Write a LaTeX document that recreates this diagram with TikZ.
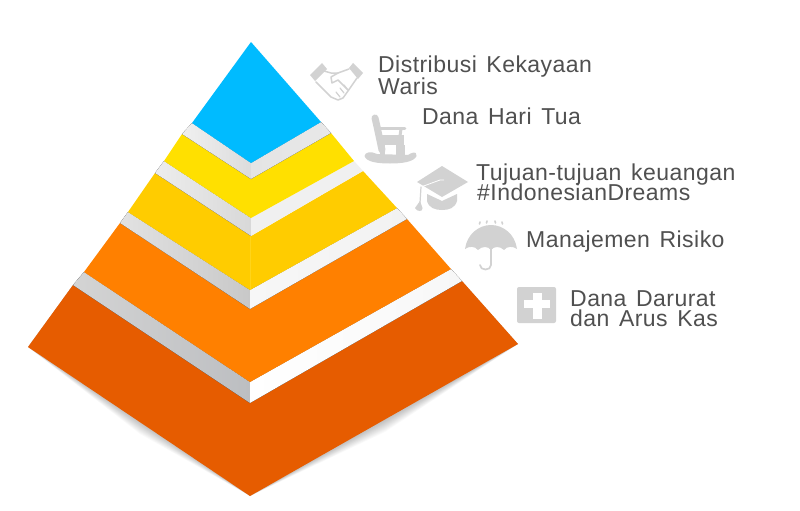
\documentclass[tikz,border=0pt]{standalone}
\usepackage{fontspec}
\setmainfont[LetterSpace=2,WordSpace=1.4]{Liberation Sans}
\definecolor{cblue}{HTML}{00BBFF}
\definecolor{cyel}{HTML}{FFE000}
\definecolor{cgold}{HTML}{FFCC00}
\definecolor{cseam}{HTML}{FFD41A}
\definecolor{corg}{HTML}{FF8000}
\definecolor{cdeep}{HTML}{E65C00}
\definecolor{icon}{HTML}{D2D2D2}
\definecolor{txt}{HTML}{505050}
\definecolor{gD4}{HTML}{D4D4D4}
\definecolor{gB4}{HTML}{BCBEC1}
\definecolor{gF7}{HTML}{F7F7F7}
\definecolor{gE2}{HTML}{E2E2E2}
\definecolor{gC8}{HTML}{C8C8C8}
\definecolor{gF2}{HTML}{F2F2F2}
\definecolor{gED}{HTML}{EDEDED}
\definecolor{gD8}{HTML}{D8D8D8}
\definecolor{gF0}{HTML}{F0F0F0}
\definecolor{gE4}{HTML}{E4E4E4}
\definecolor{gE8}{HTML}{E8E8E8}
\definecolor{gDC}{HTML}{DCDCDC}
\tikzset{
  label text/.style={anchor=base west,inner sep=0pt,text=txt,font=\fontsize{23}{23}\selectfont},
  icon fill/.style={fill=icon,draw=none},
  icon line/.style={draw=icon,line cap=round,line join=round},
}
\begin{document}
\begin{tikzpicture}[x=1pt,y=-1pt]
\useasboundingbox (0,0) rectangle (800,511);
\fill[white] (0,0) rectangle (800,511);
% shadow
\foreach \d in {1,2,...,12}{
  \fill[black,opacity=0.02] (28,347) -- (140,{422+\d}) -- (250,496) -- (385,{420+\d}) -- (518,344) -- (462,281) -- (73,285) -- cycle;
}
% base
\fill[cdeep] (73,285) -- (250,403) -- (462,281) -- (518,344) -- (250,496) -- (28,347) -- cycle;
% band 4
\fill[left color=gD4,right color=gB4] (84,272) -- (250,382) -- (250,403) -- (73,285) -- cycle;
\fill[left color=white,right color=gF7] (250,382) -- (451,269) -- (462,281) -- (250,403) -- cycle;
% orange
\fill[corg] (120,223) -- (250,309) -- (407,219) -- (451,269) -- (250,382) -- (84,272) -- cycle;
% band 3
\fill[left color=gE2,right color=gC8] (128,212) -- (250,290) -- (250,309) -- (120,223) -- cycle;
\fill[left color=gF7,right color=gF2] (250,290) -- (397,208) -- (407,219) -- (250,309) -- cycle;
% gold
\fill[cgold] (155,173) -- (251,236) -- (363,171) -- (397,208) -- (250,290) -- (128,212) -- cycle;
\draw[draw=cseam,line width=0.6pt] (250.5,236) -- (250.5,290);
% band 2
\fill[left color=gED,right color=gD8] (164,161) -- (251,218) -- (251,236) -- (155,173) -- cycle;
\fill[gF0] (251,218) -- (354,161) -- (363,171) -- (251,236) -- cycle;
% yellow
\fill[cyel] (182,134) -- (251,179) -- (331,133) -- (354,161) -- (251,218) -- (164,161) -- cycle;
% band 1
\fill[left color=gF0,right color=gDC] (192,123) -- (251,163) -- (251,179) -- (182,134) -- cycle;
\fill[left color=gE4,right color=gE8] (251,163) -- (321,122) -- (331,133) -- (251,179) -- cycle;
% blue
\fill[cblue] (251,42) -- (321,122) -- (251,163) -- (192,123) -- cycle;

% handshake
\fill[icon fill] (310,75) -- (322,63) -- (327,69) -- (315,81) -- cycle;
\fill[icon fill] (349,68) -- (353,63) -- (363,73) -- (358,79) -- cycle;
\draw[icon line,line width=1.5pt] (324,71) -- (331,73) -- (338,73) -- (349,69);
\draw[icon line,line width=1.5pt] (316,82) -- (331,97) -- (338,100) -- (343,98) -- (348,91) -- (357,78);
\draw[icon line,line width=1.5pt] (338,73) -- (331,77) -- (332,83) -- (338,80) -- (348,90);
\draw[icon line,line width=1.2pt] (336,92) -- (340,97) (340,88) -- (344,93) (344,85) -- (347,89);
% rocking chair
\draw[icon line,line width=7pt] (375,118) .. controls (377,126) and (379,136) .. (382,150);
\fill[icon fill] (380,135) rectangle (404,145);
\draw[icon line,line width=2.6pt] (380,128.5) -- (405,128.5);
\draw[icon line,line width=3pt] (401,129) -- (400,136);
\fill[icon fill] (380,145) rectangle (385,156);
\fill[icon fill] (396,145) rectangle (405,156);
\fill[icon fill] (364.5,156) .. controls (365,152) and (371,151) .. (377,154) -- (408,155) .. controls (411,153) and (417,150) .. (416.5,156) .. controls (414,162) and (402,163.5) .. (390,163.5) .. controls (378,163.5) and (366,162) .. (364.5,156) -- cycle;
% mortarboard
\fill[icon fill] (417,182) -- (442,166) -- (468,182) -- (442,197) -- cycle;
\fill[icon fill] (427,194) -- (442,201) -- (457,194) -- (457,201) .. controls (455,208) and (449,210) .. (442,210) .. controls (435,210) and (429,208) .. (427,201) -- cycle;
\draw[white,line width=0.8pt] (421,187) -- (440,180) -- (444,180);
\draw[icon line,line width=1.2pt] (421,187) -- (420,203);
\fill[icon fill] (420,201) -- (422.5,208) .. controls (423,212) and (417,212) .. (415,208) -- cycle;
% umbrella
\fill[icon fill] (465,249) .. controls (467,234) and (479,225) .. (491,225) .. controls (503,225) and (515,234) .. (517,249) .. controls (513,246) and (507,246) .. (504,250) .. controls (500,246) and (494,246) .. (491,250) .. controls (488,246) and (482,246) .. (478,250) .. controls (475,246) and (469,246) .. (465,249) -- cycle;
\draw[icon line,line width=1.7pt] (491,248) -- (491,265) .. controls (491,271) and (480,271) .. (480,265);
\draw[icon line,line width=1.6pt] (480,222) -- (479.5,224) (487,221) -- (486.5,223) (495,221) -- (495.5,223) (502,222) -- (502.5,224);
% plus box
\fill[icon fill,rounded corners=2pt] (517,287) rectangle (556,323);
\fill[white] (532.5,293) rectangle (541.5,319);
\fill[white] (524,300) rectangle (550,308);

% labels
\node[label text] (l1a) at (378,72) {Distribusi Kekayaan};
\node[label text] (l1b) at (378,94) {Waris};
\node[label text] (l2) at (422,124) {Dana Hari Tua};
\node[label text] (l3a) at (476,180) {Tujuan-tujuan keuangan};
\node[label text] (l3b) at (477,200) {\#IndonesianDreams};
\node[label text] (l4) at (526,247) {Manajemen Risiko};
\node[label text] (l5a) at (570,306) {Dana Darurat};
\node[label text] (l5b) at (570,326) {dan Arus Kas};
\end{tikzpicture}
\end{document}
